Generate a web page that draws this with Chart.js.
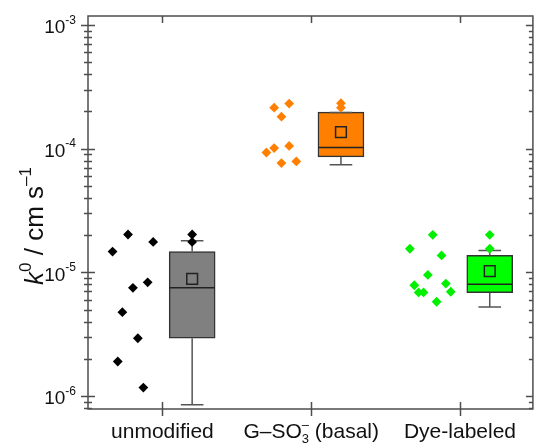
<!DOCTYPE html>
<html>
<head>
<meta charset="utf-8">
<script src="https://cdn.jsdelivr.net/npm/chart.js@4.4.0/dist/chart.umd.min.js"></script>
<style>
html, body { margin: 0; padding: 0; background: #fff; }
#wrap { width: 542px; height: 444px; }
</style>
</head>
<body>
<div id="wrap"><canvas id="c"></canvas></div>
<script>
// categories (x) and y decade labels
const categories = ['unmodified', 'G–SO_{3}^{–} (basal)', 'Dye-labeled'];
const yTickExponents = [-6, -5, -4, -3];
const yTitle = '*k*^{0} / cm s^{–1}';

// single measurements, x = jitter position next to the box
const unmodX = [0.769, 0.938, 0.665, 0.901, 0.802, 0.731, 0.835, 0.700, 0.872];
const unmodY = [2.02e-5, 1.76e-5, 1.47e-5, 8.3e-6, 7.49e-6, 4.76e-6, 2.93e-6, 1.90e-6, 1.17e-6];
const sulfX = [1.751, 1.852, 1.800, 1.699, 1.751, 1.852, 1.800, 1.900];
const sulfY = [2.14e-4, 2.31e-4, 1.81e-4, 9.3e-5, 1.01e-4, 1.05e-4, 7.63e-5, 7.87e-5];
const dyeX = [2.817, 2.663, 2.876, 2.784, 2.693, 2.905, 2.722, 2.755, 2.938, 2.843];
const dyeY = [2.01e-5, 1.55e-5, 1.37e-5, 9.53e-6, 7.86e-6, 8.11e-6, 6.87e-6, 6.87e-6, 6.96e-6, 5.78e-6];

// box statistics
const boxX = [1.2, 2.2, 3.2];
const boxQ1 = [2.93e-6, 8.57e-5, 6.83e-6];
const boxQ3 = [1.47e-5, 1.97e-4, 1.37e-5];
const boxMedian = [7.5e-6, 1.02e-4, 8.01e-6];
const boxMean = [8.85e-6, 1.36e-4, 1.02e-5];
const whiskerLow = [8.5e-7, 7.4e-5, 5.23e-6];
const whiskerHigh = [1.8e-5, 1.96e-4, 1.5e-5];
const extremeHigh = [[2.02e-5, 1.76e-5], [2.33e-4, 2.14e-4], [2.01e-5, 1.55e-5]];

const pointColors = ['#000000', '#FF7F00', '#00F000'];
const boxColors = ['#808080', '#FF8000', '#00FF00'];

const FONT = '"Liberation Sans", Arial, sans-serif';
const halfBox = 0.152, halfCap = 0.076;

function pts(xs, ys) { return xs.map((x, i) => ({x: x, y: ys[i]})); }
function segs(list) {
  const out = [];
  list.forEach(s => { out.push({x: s[0], y: s[1]}, {x: s[2], y: s[3]}, {x: s[2], y: null}); });
  return out;
}

const groups = [pts(unmodX, unmodY), pts(sulfX, sulfY), pts(dyeX, dyeY)];

const whiskerSegs = [], medianSegs = [];
boxX.forEach((bx, i) => {
  whiskerSegs.push([bx, boxQ3[i], bx, whiskerHigh[i]]);
  whiskerSegs.push([bx - halfCap, whiskerHigh[i], bx + halfCap, whiskerHigh[i]]);
  whiskerSegs.push([bx, boxQ1[i], bx, whiskerLow[i]]);
  whiskerSegs.push([bx - halfCap, whiskerLow[i], bx + halfCap, whiskerLow[i]]);
  medianSegs.push([bx - halfBox, boxMedian[i], bx + halfBox, boxMedian[i]]);
});

const datasets = [];
groups.forEach((g, i) => {
  datasets.push({
    type: 'scatter',
    data: g.concat(extremeHigh[i].map(v => ({x: boxX[i], y: v}))),
    pointStyle: 'rectRot',
    pointRadius: 4.9,
    backgroundColor: pointColors[i],
    borderColor: pointColors[i],
    borderWidth: 0,
    order: 0
  });
});
datasets.push({
  type: 'scatter',
  data: pts(boxX, boxMean),
  pointStyle: 'rect',
  pointRadius: 7.6,
  backgroundColor: 'rgba(0,0,0,0)',
  borderColor: '#222',
  borderWidth: 1.5,
  order: 1
});
datasets.push({
  type: 'line',
  data: segs(medianSegs),
  borderColor: '#222',
  borderWidth: 1.5,
  pointRadius: 0,
  spanGaps: false,
  order: 2
});
datasets.push({
  type: 'line',
  data: segs(whiskerSegs),
  borderColor: '#555',
  borderWidth: 1.5,
  pointRadius: 0,
  spanGaps: false,
  order: 3
});
datasets.push({
  type: 'bar',
  data: boxX.map((x, i) => ({x: x, y: [boxQ1[i], boxQ3[i]]})),
  backgroundColor: boxColors,
  borderColor: '#333',
  borderWidth: 1.5,
  borderSkipped: false,
  barThickness: 46,
  grouped: false,
  order: 4
});

// rich text: _{sub} ^{sup} *italic*
function parse(str) {
  return str.split(/(_\{[^}]*\}|\^\{[^}]*\}|\*[^*]*\*)/).filter(s => s).map(s => {
    if (s[0] === '_') return {t: s.slice(2, -1), m: 'sub'};
    if (s[0] === '^') return {t: s.slice(2, -1), m: 'sup'};
    if (s[0] === '*') return {t: s.slice(1, -1), m: 'it'};
    return {t: s, m: 'n'};
  });
}
function fontFor(m, size) {
  if (m === 'sub' || m === 'sup') return Math.round(size * 0.64) + 'px ' + FONT;
  if (m === 'it') return 'italic ' + size + 'px ' + FONT;
  return size + 'px ' + FONT;
}
function drawRich(ctx, str, x, y, size, align, supRaise) {
  const list = parse(str), items = [];
  let w = 0;
  list.forEach((s, i) => {
    ctx.font = fontFor(s.m, size);
    const tw = ctx.measureText(s.t).width;
    if (s.m === 'sup' && i > 0 && list[i - 1].m === 'sub') {
      const prev = items[items.length - 1];
      items.push({t: s.t, m: s.m, x: prev.x});
      w = prev.x + Math.max(prev.w, tw);
    } else {
      items.push({t: s.t, m: s.m, x: w, w: tw});
      w += tw;
    }
  });
  const x0 = align === 'center' ? x - w / 2 : align === 'right' ? x - w : x;
  ctx.textAlign = 'left';
  ctx.textBaseline = 'alphabetic';
  items.forEach(it => {
    ctx.font = fontFor(it.m, size);
    const dy = it.m === 'sup' ? -size * (supRaise || 0.42) : it.m === 'sub' ? size * 0.26 : 0;
    ctx.fillText(it.t, x0 + it.x, y + dy);
  });
}

const framePlugin = {
  id: 'frame',
  beforeDatasetsDraw(chart) {
    const ctx = chart.ctx, a = chart.chartArea;
    const xs = chart.scales.x, ys = chart.scales.y;
    ctx.save();
    ctx.strokeStyle = '#4d4d4d';
    ctx.lineWidth = 1.5;
    ctx.strokeRect(a.left, a.top, a.right - a.left, a.bottom - a.top);
    ctx.beginPath();
    ys.ticks.forEach(t => {
      const y = Math.round(ys.getPixelForValue(t.value)) + 0.5;
      const lg = Math.log10(t.value);
      const major = Math.abs(lg - Math.round(lg)) < 1e-6;
      const len = major ? 7 : 4;
      ctx.moveTo(a.left - len, y); ctx.lineTo(a.left + len, y);
      ctx.moveTo(a.right - len, y); ctx.lineTo(a.right, y);
    });
    xs.ticks.forEach(t => {
      const x = Math.round(xs.getPixelForValue(t.value)) + 0.5;
      ctx.moveTo(x, a.bottom - 7); ctx.lineTo(x, a.bottom + 7);
      ctx.moveTo(x, a.top); ctx.lineTo(x, a.top + 7);
    });
    ctx.stroke();
    ctx.restore();
  },
  afterDraw(chart) {
    const ctx = chart.ctx, a = chart.chartArea;
    const xs = chart.scales.x, ys = chart.scales.y;
    ctx.save();
    ctx.fillStyle = '#111';
    yTickExponents.forEach(e => {
      const y = ys.getPixelForValue(Math.pow(10, e));
      drawRich(ctx, '10^{' + e + '}', a.left - 12, y + 8.5, 19, 'right', 0.52);
    });
    categories.forEach((c, i) => {
      drawRich(ctx, c, xs.getPixelForValue(i + 1), 438, 21, 'center');
    });
    ctx.translate(43, 226);
    ctx.rotate(-Math.PI / 2);
    drawRich(ctx, yTitle, 0, 0, 26, 'center', 0.45);
    ctx.restore();
  }
};

new Chart(document.getElementById('c'), {
  type: 'scatter',
  data: { datasets: datasets },
  plugins: [framePlugin],
  options: {
    responsive: true,
    maintainAspectRatio: false,
    animation: false,
    layout: { padding: { left: 88, top: 16, right: 1, bottom: 35 } },
    plugins: { legend: { display: false }, tooltip: { enabled: false } },
    scales: {
      x: {
        type: 'linear',
        min: 0.5,
        max: 3.49,
        offset: false,
        grid: { display: false, drawTicks: false },
        border: { display: false },
        ticks: { display: false },
        afterBuildTicks: s => { s.ticks = categories.map((c, i) => ({value: i + 1})); }
      },
      y: {
        type: 'logarithmic',
        min: 7.85e-7,
        max: 1.18e-3,
        grid: { display: false, drawTicks: false },
        border: { display: false },
        ticks: { display: false },
        afterBuildTicks: s => {
          const t = [];
          for (let e = -7; e <= -3; e++) {
            for (let k = 1; k <= 9; k++) {
              const v = k * Math.pow(10, e);
              if (v >= s.min * 0.9999 && v <= s.max * 1.0001) t.push({value: v});
            }
          }
          s.ticks = t;
        }
      }
    }
  }
});
</script>
</body>
</html>
